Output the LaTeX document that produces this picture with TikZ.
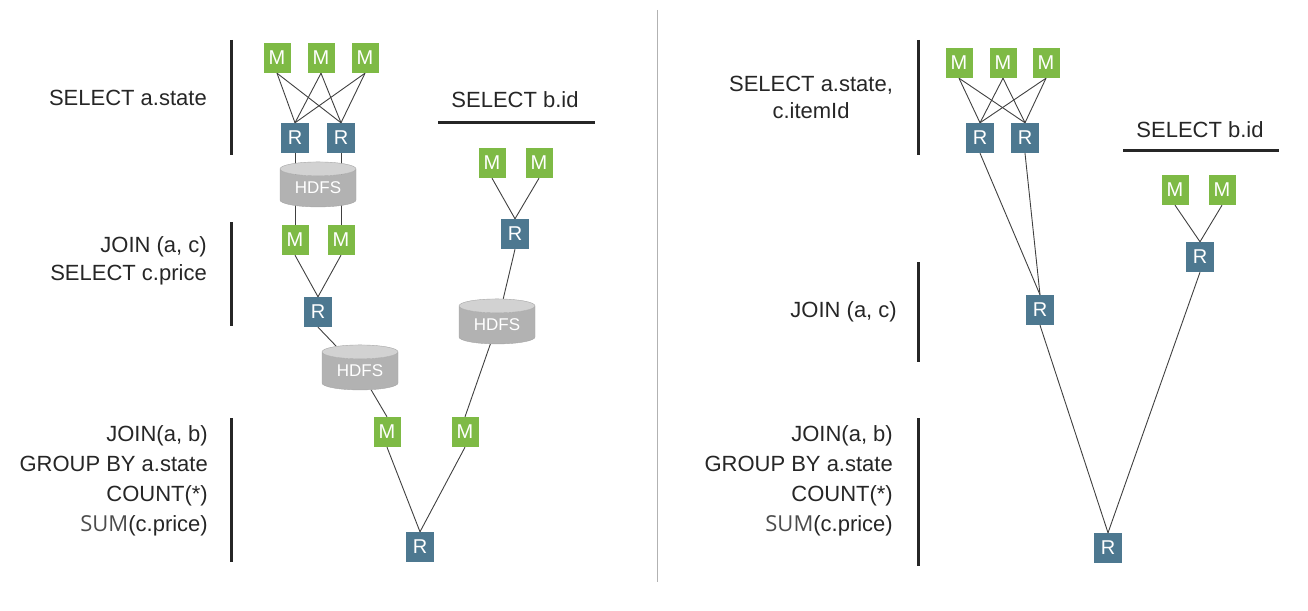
\documentclass[tikz,border=0pt]{standalone}
\usepackage{fontspec}
\setmainfont{Liberation Sans}
\newfontfamily\sumfont{Open Sans}
\usetikzlibrary{shapes.geometric,backgrounds}

\definecolor{mapgreen}{HTML}{7EBA45}
\definecolor{redblue}{HTML}{4D7890}
\definecolor{txtgray}{HTML}{262626}

\tikzset{
	mapbox/.style={fill=mapgreen, text=white, minimum width=27pt, minimum height=30pt, inner sep=0pt, font=\fontsize{20}{20}\selectfont},
	redbox/.style={fill=redblue, text=white, minimum width=28pt, minimum height=30pt, inner sep=0pt, font=\fontsize{20}{20}\selectfont},
	hdfs/.style={cylinder, shape border rotate=90, aspect=0.3, cylinder uses custom fill, cylinder body fill=gray!60, cylinder end fill=gray!35, draw=gray!70, minimum width=76pt, minimum height=45pt, inner sep=0pt, text=white, font=\fontsize{17}{17}\selectfont},
	link/.style={draw=black!75, line width=0.9pt},
	querytxt/.style={text=txtgray, inner sep=0pt, font=\fontsize{22}{30}\selectfont},
	bar/.style={line width=3pt, draw=txtgray}
}

\begin{document}
\begin{tikzpicture}[x=1pt, y=-1pt]
	\useasboundingbox (0,0) rectangle (1308,610);
	
	% left: three stages
	\node[mapbox] (lm1) at (277,58) {M};
	\node[mapbox] (lm2) at (321,58) {M};
	\node[mapbox] (lm3) at (365,58) {M};
	\node[redbox] (lr1) at (295,138) {R};
	\node[redbox] (lr2) at (341,138) {R};
	\node[hdfs] (lh1) at (318,188) {HDFS};
	\node[mapbox] (lm4) at (295,240) {M};
	\node[mapbox] (lm5) at (341,240) {M};
	\node[redbox] (lr3) at (318,312) {R};
	\node[hdfs] (lh2) at (360,371) {HDFS};
	\node[mapbox] (lm6) at (387,432) {M};
	\node[mapbox] (lm7) at (465,432) {M};
	\node[redbox] (lrf) at (420,547) {R};
	
	\node[mapbox] (lbm1) at (492,163) {M};
	\node[mapbox] (lbm2) at (539,163) {M};
	\node[redbox] (lbr) at (515,234) {R};
	\node[hdfs] (lbh) at (497,325) {HDFS};
	
	% right: merged stages
	\node[mapbox] (rm1) at (959,63) {M};
	\node[mapbox] (rm2) at (1003,63) {M};
	\node[mapbox] (rm3) at (1046,63) {M};
	\node[redbox] (rr1) at (980,138) {R};
	\node[redbox] (rr2) at (1025,138) {R};
	\node[redbox] (rrj) at (1040,310) {R};
	\node[mapbox] (rbm1) at (1175,190) {M};
	\node[mapbox] (rbm2) at (1222,190) {M};
	\node[redbox] (rbr) at (1200,257) {R};
	\node[redbox] (rrf) at (1108,548) {R};
	
	\begin{scope}[on background layer]
		\foreach \m in {lm1,lm2,lm3}
			\foreach \r in {lr1,lr2}
				\draw[link] (\m.south) -- (\r.north);
		\draw[link] (lr1.south) -- (lr1 |- lh1.center);
		\draw[link] (lr2.south) -- (lr2 |- lh1.center);
		\draw[link] (lm4.north) -- (lm4 |- lh1.center);
		\draw[link] (lm5.north) -- (lm5 |- lh1.center);
		\draw[link] (lm4.south) -- (lr3.north);
		\draw[link] (lm5.south) -- (lr3.north);
		\draw[link] (lr3.south) -- (lh2);
		\draw[link] (lh2) -- (lm6.north);
		\draw[link] (lm6.south) -- (lrf.north);
		\draw[link] (lm7.south) -- (lrf.north);
		\draw[link] (lbm1.south) -- (lbr.north);
		\draw[link] (lbm2.south) -- (lbr.north);
		\draw[link] (lbr.south) -- (lbh);
		\draw[link] (lbh) -- (lm7.north);
		
		\foreach \m in {rm1,rm2,rm3}
			\foreach \r in {rr1,rr2}
				\draw[link] (\m.south) -- (\r.north);
		\draw[link] (rr1.south) -- (rrj.north);
		\draw[link] (rr2.south) -- (rrj.north);
		\draw[link] (rbm1.south) -- (rbr.north);
		\draw[link] (rbm2.south) -- (rbr.north);
		\draw[link] (rrj.south) -- (rrf.north);
		\draw[link] (rbr.south) -- (rrf.north);
	\end{scope}
	
	% query texts and bars
	\node[querytxt, anchor=east] (lq1) at (207,98) {SELECT a.state};
	\node[querytxt, anchor=east, align=right, font=\fontsize{22}{28}\selectfont] (lq2) at (207,261) {JOIN (a, c)\\SELECT c.price};
	\node[querytxt, anchor=east, align=right] (lq3) at (208,481) {JOIN(a, b)\\GROUP BY a.state\\COUNT(*)\\{\sumfont\color{black!70}SUM}(c.price)};
	\node[querytxt] (lqb) at (515,100) {SELECT b.id};
	
	\node[querytxt, align=center, font=\fontsize{22}{27}\selectfont] (rq1) at (811,97) {SELECT a.state,\\c.itemId};
	\node[querytxt, anchor=east] (rq2) at (897,312) {JOIN (a, c)};
	\node[querytxt, anchor=east, align=right] (rq3) at (893,481) {JOIN(a, b)\\GROUP BY a.state\\COUNT(*)\\{\sumfont\color{black!70}SUM}(c.price)};
	\node[querytxt] (rqb) at (1200,130) {SELECT b.id};
	
	\draw[bar] (231,40) -- (231,155);
	\draw[bar] (231,222) -- (231,326);
	\draw[bar] (231,418) -- (231,562);
	\draw[bar] (438,122) -- (595,122);
	\draw[bar] (918,40) -- (918,155);
	\draw[bar] (918,262) -- (918,362);
	\draw[bar] (918,418) -- (918,566);
	\draw[bar] (1123,150) -- (1279,150);
	
	\draw[gray!60, line width=1pt] (657,10) -- (657,582);
\end{tikzpicture}
\end{document}
